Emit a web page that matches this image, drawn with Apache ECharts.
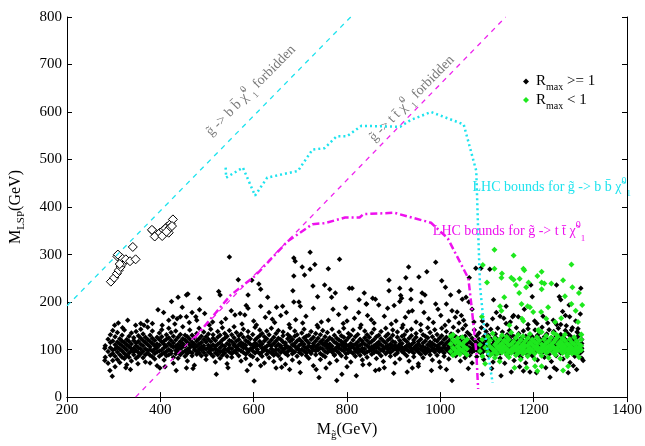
<!DOCTYPE html>
<html>
<head>
<meta charset="utf-8">
<script src="https://cdn.jsdelivr.net/npm/echarts@6/dist/echarts.min.js"></script>
<style>
  html, body { margin: 0; padding: 0; background: #fff; }
  #main { width: 645px; height: 446px; }
</style>
</head>
<body>
<div id="main"></div>
<script>
// x ticks / y ticks
var aXTicks = [200, 400, 600, 800, 1000, 1200, 1400];
var aYTicks = [0, 100, 200, 300, 400, 500, 600, 700, 800];

// kinematic limits (dashed lines)
var aBBLimit = [[200, 192], [808, 800]];
var aTTLimit = [[347, 0], [1140, 800]];

// LHC bound g -> b b chi (cyan dotted)
var aLhcBB = [[540, 483], [541, 462], [577, 483], [603, 424], [629, 462], [695, 476], [726, 521],
    [752, 524], [778, 549], [800, 549], [831, 571], [914, 569], [936, 583], [980, 600], [1050, 574],
    [1077, 476], [1081, 352], [1085, 234], [1094, 144], [1112, 30]];

// LHC bound g -> t t chi (magenta dash-dot)
var aLhcTT = [[473, 124], [550, 214], [603, 255], [673, 328], [726, 364], [752, 366], [796, 378],
    [827, 378], [835, 385], [901, 388], [980, 367], [1016, 334], [1060, 250], [1067, 190],
    [1077, 96], [1081, 17]];

// open diamonds
var aOpen = [[294, 243], [301, 251], [307, 260], [311, 267], [315, 274], [321, 283], [308, 296],
    [317, 293], [326, 290], [335, 286], [347, 290], [341, 316], [309, 300], [313, 280], [384, 350],
    [388, 338], [399, 346], [407, 352], [415, 359], [422, 365], [427, 374], [418, 346], [404, 339],
    [411, 355], [382, 352], [420, 356], [413, 348], [425, 360]];

// R_max >= 1 : main band, [x, [y...]]
var aBlackBand = [
    [282, [84, 108]], [288, [96, 122, 71]], [293, [88, 104, 131, 115]], [298, [77, 99, 118, 140, 92]],
    [303, [86, 110, 127, 101, 64]], [308, [95, 116, 79, 136, 105]], [313, [89, 123, 101, 112, 73]],
    [318, [84, 97, 130, 108, 118]], [323, [92, 104, 141, 115, 81]], [328, [99, 87, 121, 110, 68]],
    [333, [106, 93, 128, 117, 84]], [338, [97, 112, 135, 102, 76]], [343, [89, 103, 119, 95, 125]],
    [348, [108, 82, 98, 138, 114]], [353, [94, 117, 104, 86, 129]], [358, [101, 124, 91, 111, 143]],
    [363, [96, 108, 83, 119, 133]], [368, [102, 89, 115, 126, 74]], [373, [93, 110, 98, 121, 147]],
    [378, [106, 88, 117, 100, 130]], [383, [97, 113, 124, 85, 139]], [388, [101, 92, 119, 108, 80]],
    [393, [95, 112, 126, 104, 66]], [398, [109, 86, 121, 97, 135]], [403, [99, 116, 90, 127, 142]],
    [408, [104, 93, 118, 111, 78]], [413, [96, 122, 107, 131, 87]], [418, [113, 100, 89, 125, 145]],
    [423, [92, 108, 119, 97, 136]], [428, [105, 84, 114, 128, 71]], [433, [98, 120, 107, 91, 139]],
    [438, [111, 95, 126, 103, 82]], [443, [101, 89, 117, 132, 108]], [448, [94, 123, 106, 113, 148]],
    [453, [107, 97, 120, 86, 130]], [458, [100, 115, 92, 127, 76]], [463, [110, 96, 122, 104, 141]],
    [468, [93, 108, 116, 130, 87]], [473, [104, 99, 125, 112, 67]], [478, [96, 118, 107, 134, 90]],
    [483, [112, 101, 93, 123, 145]], [488, [99, 87, 115, 128, 106]], [493, [108, 94, 121, 102, 137]],
    [498, [101, 116, 88, 127, 79]], [503, [95, 109, 122, 133, 104]], [508, [106, 91, 117, 99, 143]],
    [513, [100, 124, 110, 86, 131]], [518, [93, 107, 119, 102, 74]], [523, [111, 98, 126, 89, 138]],
    [528, [104, 115, 95, 130, 82]], [533, [97, 120, 109, 88, 146]], [538, [107, 101, 124, 93, 134]],
    [543, [99, 113, 86, 128, 70]], [548, [110, 95, 119, 104, 140]], [553, [102, 117, 91, 131, 84]],
    [558, [96, 108, 125, 112, 148]], [563, [105, 93, 118, 99, 136]], [568, [100, 121, 110, 87, 129]],
    [573, [108, 97, 115, 133, 76]], [578, [94, 112, 104, 126, 143]], [583, [103, 90, 119, 109, 81]],
    [588, [99, 116, 127, 95, 138]], [593, [111, 101, 88, 123, 68]], [598, [97, 109, 132, 104, 85]],
    [603, [106, 93, 120, 114, 147]], [608, [100, 125, 96, 110, 79]], [613, [108, 91, 117, 129, 141]],
    [618, [95, 112, 103, 86, 134]], [623, [104, 118, 99, 127, 72]], [628, [98, 107, 123, 90, 139]],
    [633, [110, 96, 115, 131, 83]], [638, [102, 120, 93, 108, 145]], [643, [97, 113, 126, 88, 75]],
    [648, [107, 100, 118, 134, 92]], [653, [99, 111, 87, 124, 140]], [658, [105, 94, 121, 108, 80]],
    [663, [101, 116, 97, 129, 137]], [668, [109, 92, 114, 103, 69]], [673, [96, 123, 106, 88, 132]],
    [678, [104, 99, 117, 127, 146]], [683, [98, 110, 91, 121, 78]], [688, [107, 95, 128, 113, 139]],
    [693, [101, 118, 104, 86, 131]], [698, [94, 109, 122, 99, 73]], [703, [112, 100, 117, 135, 90]],
    [708, [97, 106, 125, 111, 143]], [713, [103, 93, 119, 87, 128]], [718, [108, 98, 114, 130, 82]],
    [723, [95, 121, 105, 92, 138]], [728, [100, 113, 126, 108, 66]], [733, [106, 97, 118, 89, 134]],
    [738, [99, 110, 124, 102, 147]], [743, [104, 92, 116, 131, 79]], [748, [111, 101, 88, 120, 140]],
    [753, [96, 108, 127, 114, 85]], [758, [103, 119, 94, 109, 136]], [763, [98, 112, 106, 125, 71]],
    [768, [107, 95, 121, 101, 143]], [773, [100, 116, 89, 130, 88]], [778, [105, 97, 113, 124, 77]],
    [783, [93, 109, 120, 103, 137]], [788, [110, 100, 87, 117, 129]], [793, [97, 114, 106, 126, 145]],
    [798, [102, 91, 119, 110, 83]], [803, [108, 99, 125, 94, 134]], [808, [96, 113, 104, 130, 74]],
    [813, [105, 120, 92, 109, 141]], [818, [100, 111, 127, 97, 86]], [823, [107, 94, 116, 103, 132]],
    [828, [98, 122, 109, 88, 146]], [833, [103, 96, 118, 113, 78]], [838, [111, 101, 125, 92, 139]],
    [843, [95, 108, 119, 131, 84]], [848, [104, 97, 114, 126, 69]], [853, [99, 117, 106, 90, 135]],
    [858, [108, 102, 121, 94, 143]], [863, [96, 112, 127, 105, 81]], [868, [103, 93, 116, 110, 130]],
    [873, [110, 99, 123, 87, 138]], [878, [97, 106, 118, 101, 75]], [883, [105, 114, 91, 128, 145]],
    [888, [100, 120, 108, 96, 133]], [893, [94, 111, 103, 124, 86]], [898, [107, 98, 117, 130, 141]],
    [903, [102, 115, 89, 109, 72]], [908, [98, 106, 126, 93, 137]], [913, [109, 101, 119, 112, 80]],
    [918, [96, 113, 104, 128, 146]], [923, [104, 92, 121, 99, 131]], [928, [100, 117, 108, 87, 139]],
    [933, [106, 96, 124, 111, 76]], [938, [97, 110, 102, 129, 143]], [943, [103, 115, 93, 120, 85]],
    [948, [108, 99, 126, 106, 134]], [953, [95, 112, 117, 101, 70]], [958, [101, 107, 122, 90, 140]],
    [963, [106, 97, 114, 131, 83]], [968, [99, 118, 104, 92, 128]], [973, [110, 102, 125, 96, 146]],
    [978, [97, 108, 116, 89, 136]], [983, [104, 113, 100, 127, 78]], [988, [100, 95, 120, 109, 142]],
    [993, [107, 101, 118, 88, 132]], [998, [96, 111, 104, 124, 74]], [1003, [102, 98, 115, 129, 145]],
    [1008, [109, 105, 93, 121, 86]], [1013, [99, 114, 101, 126, 138]], [1018, [105, 96, 118, 108, 80]],
    [1023, [101, 110, 123, 91, 133]], [1028, [97, 106, 117, 130, 147]], [1033, [104, 99, 112, 87, 127]],
    [1038, [108, 101, 120, 95, 139]], [1043, [98, 113, 105, 125, 76]], [1048, [103, 96, 118, 109, 144]],
    [1053, [100, 110, 92, 128, 83]], [1058, [106, 99, 121, 114, 136]], [1063, [97, 104, 116, 88, 131]],
    [1068, [102, 111, 95, 124, 72]], [1073, [108, 98, 119, 106, 141]], [1078, [99, 114, 103, 129, 85]],
    [1083, [105, 96, 122, 110, 135]], [1088, [101, 108, 117, 92, 146]], [1093, [97, 112, 104, 127, 79]],
    [1098, [103, 99, 120, 115, 138]], [1103, [108, 94, 113, 130, 88]], [1108, [100, 106, 123, 97, 143]],
    [1113, [96, 111, 118, 104, 74]], [1118, [104, 100, 126, 90, 133]], [1123, [99, 115, 107, 121, 145]],
    [1128, [106, 93, 119, 110, 82]], [1133, [101, 113, 98, 127, 137]], [1138, [97, 108, 122, 104, 71]],
    [1143, [105, 99, 116, 131, 88]], [1148, [100, 112, 94, 124, 140]], [1153, [108, 102, 118, 96, 130]],
    [1158, [95, 110, 106, 127, 77]], [1163, [103, 98, 121, 114, 146]], [1168, [99, 115, 104, 89, 134]],
    [1173, [107, 101, 124, 111, 83]], [1178, [96, 109, 118, 100, 139]], [1183, [104, 93, 113, 128, 72]],
    [1188, [100, 117, 106, 122, 144]], [1193, [106, 98, 120, 91, 131]], [1198, [97, 111, 103, 126, 86]],
    [1203, [103, 107, 118, 95, 141]], [1208, [109, 99, 114, 130, 78]], [1213, [98, 105, 123, 110, 136]],
    [1218, [102, 116, 93, 119, 147]], [1223, [107, 100, 112, 127, 84]], [1228, [96, 108, 121, 104, 133]],
    [1233, [104, 97, 117, 90, 142]], [1238, [100, 113, 106, 125, 75]], [1243, [106, 95, 120, 109, 138]],
    [1248, [97, 110, 102, 128, 87]], [1253, [103, 99, 116, 122, 145]], [1258, [108, 104, 93, 119, 132]],
    [1263, [99, 114, 107, 126, 80]], [1268, [105, 96, 121, 111, 140]], [1273, [101, 109, 117, 91, 134]],
    [1278, [96, 112, 104, 129, 73]], [1283, [104, 100, 123, 108, 146]], [1288, [99, 115, 94, 120, 86]],
    [1293, [107, 102, 118, 126, 137]], [1298, [98, 110, 105, 91, 131]], [1303, [103, 96, 121, 113, 82]]
];

// R_max >= 1 : scattered points off the band
var aBlackOut = [[548, 295], [567, 247], [525, 222], [528, 215], [424, 201], [438, 210], [456, 215],
    [459, 217], [484, 208], [447, 189], [395, 184], [407, 178], [468, 178], [484, 184], [427, 169],
    [436, 165], [443, 169], [476, 169], [478, 162], [418, 162], [456, 169], [302, 151], [347, 151],
    [358, 155], [365, 151], [383, 155], [319, 146], [281, 103], [281, 77], [297, 44], [292, 56],
    [434, 56], [456, 61], [399, 61], [378, 72], [336, 58],
    [721, 305], [686, 293], [689, 286], [784, 290], [704, 274], [731, 279], [721, 269], [760, 270],
    [686, 255], [709, 257], [596, 246], [611, 238], [615, 227], [727, 234], [752, 236], [763, 227],
    [805, 229], [811, 229], [684, 224], [588, 215], [630, 210], [737, 211], [767, 210], [775, 219],
    [826, 205], [842, 196], [584, 193], [588, 187], [615, 191], [649, 189], [662, 191], [686, 200],
    [697, 200], [700, 191], [728, 187], [797, 188], [560, 173], [571, 176], [581, 173], [633, 178],
    [670, 178], [782, 174], [816, 166], [844, 172], [601, 34], [586, 56], [778, 35], [789, 48],
    [740, 41], [648, 61], [677, 58], [734, 58],
    [990, 284], [932, 274], [971, 264], [890, 246], [890, 224], [926, 251], [954, 253], [913, 229],
    [937, 226], [1011, 231], [1003, 245], [1076, 271], [1040, 222], [961, 219], [967, 215], [1022, 215],
    [837, 219], [855, 208], [861, 206], [841, 196], [915, 214], [917, 208], [913, 201], [868, 194],
    [901, 193], [937, 206], [959, 200], [990, 196], [1013, 196], [1047, 206], [1055, 210], [1061, 200],
    [887, 187], [932, 179], [940, 182], [965, 178], [1025, 182], [1036, 179], [1001, 172], [1045, 172],
    [1050, 162], [1054, 151], [861, 56], [869, 58], [929, 53], [981, 56], [1013, 58], [1025, 35],
    [834, 68], [953, 65],
    [1087, 271], [1106, 269], [1062, 251], [1194, 236], [1249, 236], [1301, 229], [1197, 211],
    [1255, 211], [1258, 205], [1114, 205], [1276, 194], [1141, 191], [1157, 172], [1155, 169],
    [1167, 169], [1128, 170], [1136, 166], [1202, 160], [1207, 155], [1242, 162], [1246, 157],
    [1249, 153], [1258, 153], [1268, 172], [1277, 169], [1290, 160], [1281, 141], [1295, 144],
    [1112, 165], [1141, 155], [1235, 42], [1178, 55], [1192, 53], [1152, 53], [1244, 62], [1249, 58],
    [1292, 58], [1274, 51], [1306, 77], [1206, 51],
    [495, 176], [512, 158], [540, 165], [552, 182], [600, 160], [625, 168], [645, 157], [658, 172],
    [690, 163], [712, 170], [745, 158], [770, 185], [800, 160], [825, 178], [852, 163], [880, 170],
    [905, 160], [925, 168], [948, 158], [975, 165], [995, 185], [1018, 160], [1032, 168], [1068, 185],
    [1090, 160], [1120, 178], [1180, 185], [1220, 170], [1262, 180], [1300, 175],
    [520, 48], [700, 52], [820, 45], [900, 50], [1090, 48], [1110, 60], [1130, 45],
    [310, 156], [330, 162], [372, 160], [404, 151], [431, 154], [462, 157], [505, 152], [531, 157],
    [575, 154], [606, 152], [640, 164], [676, 153], [705, 156], [736, 151], [760, 162], [792, 155],
    [830, 152], [858, 156], [895, 154], [920, 152], [958, 153], [985, 157], [1010, 151], [1040, 156],
    [1072, 158], [1100, 152], [1150, 158], [1188, 153], [1230, 156], [1270, 150],
    [326, 62], [352, 70], [410, 64], [470, 60], [545, 62], [615, 66], [660, 63], [755, 61],
    [800, 64], [880, 62], [940, 61], [1000, 63], [1060, 60], [1170, 64], [1226, 62], [1285, 66]];

// R_max < 1 : band, [x, [y...]]
var aGreenBand = [
    [1022, [96, 112, 128]], [1027, [88, 104, 120, 131]], [1032, [99, 115, 92]], [1037, [107, 124, 95, 118]],
    [1042, [101, 90, 113]], [1047, [110, 98, 126]], [1052, [94, 105, 117]], [1057, [102, 89, 121]],
    [1085, [97, 110]], [1090, [86, 121]], [1096, [104, 70]], [1102, [95, 113, 127]],
    [1107, [88, 106, 119]], [1112, [101, 92, 134]], [1117, [110, 97, 124, 83]], [1122, [104, 116, 91]],
    [1127, [99, 122, 108, 75]], [1132, [94, 113, 103, 130]], [1137, [107, 98, 119]], [1142, [102, 90, 115, 127]],
    [1147, [96, 109, 121, 84]], [1152, [111, 100, 93, 136]], [1157, [104, 117, 98]], [1162, [99, 108, 125, 88]],
    [1167, [93, 114, 103, 131]], [1172, [106, 97, 120, 79]], [1177, [101, 112, 91, 128]], [1182, [95, 107, 118]],
    [1187, [109, 99, 124, 86]], [1192, [103, 115, 94, 133]], [1197, [98, 110, 121]], [1202, [92, 105, 117, 80]],
    [1207, [107, 100, 126, 113]], [1212, [101, 95, 119, 138]], [1217, [96, 111, 104, 87]], [1222, [108, 99, 122]],
    [1227, [103, 114, 93, 129]], [1232, [97, 107, 118, 83]], [1237, [110, 101, 125]], [1242, [94, 106, 115, 135]],
    [1247, [100, 96, 121, 89]], [1252, [105, 112, 99, 127]], [1257, [98, 108, 117, 81]], [1262, [93, 103, 124, 112]],
    [1267, [107, 97, 119, 132]], [1272, [101, 90, 113, 86]], [1277, [96, 108, 122, 103]], [1282, [104, 99, 115, 92]],
    [1287, [98, 111, 94, 126]], [1292, [91, 105, 118, 101]], [1297, [103, 96, 112, 84]], [1302, [99, 108, 121, 131]]
];

// R_max < 1 : scattered
var aGreenOut = [[1116, 310], [1157, 298], [1281, 279], [1091, 278], [1100, 241], [1089, 169],
    [1116, 270], [1132, 260], [1131, 251], [1178, 270], [1180, 267], [1217, 264], [1152, 251],
    [1157, 247], [1208, 255], [1170, 249], [1189, 241], [1217, 241], [1223, 239], [1238, 239],
    [1263, 246], [1162, 236], [1184, 231], [1217, 227], [1283, 231], [1169, 219], [1137, 210],
    [1267, 212], [1297, 219], [1174, 196], [1187, 191], [1192, 189], [1231, 189], [1128, 191],
    [1131, 182], [1281, 196], [1290, 182], [1304, 194], [1199, 179], [1216, 179], [1227, 165],
    [1175, 165], [1178, 160], [1148, 151], [1259, 166], [1246, 158], [1295, 158], [1210, 141],
    [1217, 137], [1249, 131], [1302, 132], [1185, 62], [1159, 62], [1203, 65], [1217, 65],
    [1263, 56], [1274, 65], [1208, 55]];

var sFont = '"Liberation Serif", "Times New Roman", serif';

function Flatten(aBand, aOut) {
    var aPts = [];
    for (var i = 0; i < aBand.length; i++) {
        for (var j = 0; j < aBand[i][1].length; j++) {
            aPts.push([aBand[i][0], aBand[i][1][j]]);
        }
    }
    return aPts.concat(aOut);
}

// rich text: m = normal, s = subscript, p = superscript
// sKey is 'color' for echarts components and 'fill' for graphic elements
function SubRich(iSize, sColor, sKey) {
    sColor = sColor || '#000';
    sKey = sKey || 'color';
    var m = {fontSize: iSize, fontFamily: sFont, lineHeight: 22};
    var s = {fontSize: iSize - 5, fontFamily: sFont, lineHeight: 10, verticalAlign: 'bottom'};
    var p = {fontSize: iSize - 4, fontFamily: sFont, lineHeight: 10, verticalAlign: 'top'};
    m[sKey] = sColor; s[sKey] = sColor; p[sKey] = sColor;
    return {m: m, s: s, p: p};
}

function GetOption() {
    var jAxisCommon = {
        axisLine: {show: true, lineStyle: {color: '#000', width: 1}},
        axisTick: {show: true, inside: true, length: 5, lineStyle: {color: '#000'}},
        splitLine: {show: false},
        axisLabel: {show: false}
    };
    function Ax(jExtra) {
        return Object.assign({}, JSON.parse(JSON.stringify(jAxisCommon)), jExtra);
    }
    var jLabel = {show: true, color: '#000', fontSize: 15, fontFamily: sFont, margin: 5,
        formatter: function (v) { return String(v); }};
    return {
        animation: false,
        backgroundColor: '#fff',
        grid: {left: 66, right: 16, top: 17, bottom: 43, containLabel: false},
        legend: {
            orient: 'vertical',
            left: 518, top: 69,
            itemWidth: 6, itemHeight: 6, itemGap: 0,
            data: ['R_max >= 1', 'R_max < 1'],
            formatter: function (sName) {
                return sName == 'R_max >= 1' ? '{m|R}{s|max}{m| >= 1}' : '{m|R}{s|max}{m| < 1}';
            },
            textStyle: {rich: SubRich(15), padding: [0, 0, 0, 2]}
        },
        xAxis: [
            Ax({type: 'value', min: 200, max: 1400, interval: 200, position: 'bottom',
                axisLabel: jLabel,
                name: '{m|M}{s|g̃}{m|(GeV)}', nameLocation: 'middle', nameGap: 21,
                nameTextStyle: {rich: SubRich(16)}}),
            Ax({type: 'value', min: 200, max: 1400, interval: 200, position: 'top'})
        ],
        yAxis: [
            Ax({type: 'value', min: 0, max: 800, interval: 100, position: 'left',
                axisLabel: jLabel,
                name: '{m|M}{s|LSP}{m|(GeV)}', nameLocation: 'middle', nameGap: 40,
                nameTextStyle: {rich: SubRich(16)}}),
            Ax({type: 'value', min: 0, max: 800, interval: 100, position: 'right'})
        ],
        series: [
            {
                name: 'R_max >= 1', type: 'scatter', symbol: 'diamond', symbolSize: 5.5,
                itemStyle: {color: '#000', opacity: 1},
                data: Flatten(aBlackBand, aBlackOut)
            },
            {
                name: 'open', type: 'scatter', symbol: 'diamond', symbolSize: 9,
                itemStyle: {color: '#fff', borderColor: '#000', borderWidth: 1, opacity: 1},
                data: aOpen
            },
            {
                name: 'R_max < 1', type: 'scatter', symbol: 'diamond', symbolSize: 6,
                itemStyle: {color: '#1ee81e', opacity: 1},
                data: Flatten(aGreenBand, aGreenOut)
            },
            {
                name: 'bbLimit', type: 'line', data: aBBLimit, symbol: 'none', clip: true,
                lineStyle: {color: '#1ee3ee', width: 1.3, type: [5, 5]}
            },
            {
                name: 'ttLimit', type: 'line', data: aTTLimit, symbol: 'none', clip: true,
                lineStyle: {color: '#ee22ee', width: 1.3, type: [5, 5]}
            },
            {
                name: 'lhcBB', type: 'line', data: aLhcBB, symbol: 'none',
                lineStyle: {color: '#1ee3ee', width: 2.5, type: [2, 3]}
            },
            {
                name: 'lhcTT', type: 'line', data: aLhcTT, symbol: 'none',
                lineStyle: {color: '#ee11ee', width: 2.5, type: [7, 3, 2, 3]}
            }
        ]
    };
}

function SetOption(jOption, sTagID) {
    var oDom = document.getElementById(sTagID);
    var myChart = echarts.init(oDom, null, {renderer: 'canvas'});
    myChart.setOption(jOption);
    return myChart;
}

function TextEl(aPos, fRot, sText, sColor, sAlign) {
    return {
        type: 'text', x: aPos[0], y: aPos[1], rotation: fRot,
        style: {text: sText, fill: sColor, rich: SubRich(14, sColor, 'fill'), align: sAlign, verticalAlign: 'middle'}
    };
}

function AddText(oChart) {
    var P = function (a) { return oChart.convertToPixel({xAxisIndex: 0, yAxisIndex: 0}, a); };
    var p0 = P(aBBLimit[0]), p1 = P(aBBLimit[1]);
    var fAngle = Math.atan2(p0[1] - p1[1], p1[0] - p0[0]);
    oChart.setOption({
        graphic: [
            TextEl(P([594, 645]), fAngle, '{m|g̃ -> b b̄ χ̃}{p|0}{s|1}{m| forbidden}', '#7a7a7a', 'center'),
            TextEl(P([939, 628]), fAngle, '{m|g̃ -> t t̄ χ̃}{p|0}{s|1}{m| forbidden}', '#7a7a7a', 'center'),
            TextEl(P([1069, 441]), 0, '{m|LHC bounds for g̃ -> b b̄ χ̃}{p|0}{s|1}', '#1ee3ee', 'left'),
            TextEl(P([984, 348]), 0, '{m|LHC bounds for g̃ -> t t̄ χ̃}{p|0}{s|1}', '#ee11ee', 'left')
        ]
    });
}

function drawChart(sTagID) {
    var jOption = GetOption();
    var oChart = SetOption(jOption, sTagID);
    AddText(oChart);
}

drawChart('main');
</script>
</body>
</html>
